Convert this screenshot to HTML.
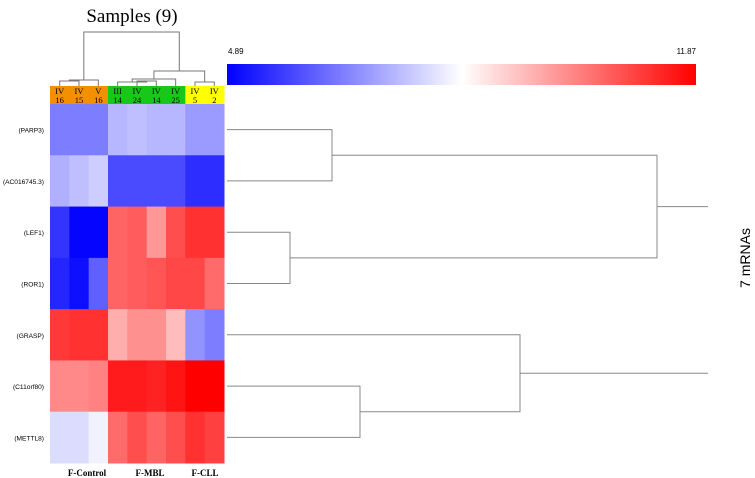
<!DOCTYPE html>
<html><head><meta charset="utf-8"><style>
body{margin:0;background:#fff;width:755px;height:478px;overflow:hidden}
svg{display:block}
</style></head><body>
<svg id="chart" width="755" height="478" xmlns="http://www.w3.org/2000/svg">
<defs><linearGradient id="cb" x1="0" x2="1" y1="0" y2="0"><stop offset="0" stop-color="#0000ff"/><stop offset="0.5" stop-color="#ffffff"/><stop offset="1" stop-color="#ff0000"/></linearGradient></defs>
<text x="132" y="22" font-family="Liberation Serif, serif" font-size="19" text-anchor="middle">Samples (9)</text>
<g id="cells"></g>
<g id="hdr"></g>
<g id="rdend" stroke="#888" stroke-width="1" fill="none"></g>
<g id="cdend" stroke="#777" stroke-width="1" fill="none"></g>
<rect x="227" y="64" width="469" height="21" fill="url(#cb)"/>
<text x="228" y="54" font-family="Liberation Sans, sans-serif" font-size="8">4.89</text>
<text x="696" y="54" font-family="Liberation Sans, sans-serif" font-size="8" text-anchor="end">11.87</text>
<text transform="translate(750,258) rotate(-90)" font-family="Liberation Sans, sans-serif" font-size="14" text-anchor="middle">7 mRNAs</text>
<g id="groups" font-family="Liberation Serif, serif" font-size="9" font-weight="bold" text-anchor="middle"></g>
</svg>
<script>
const genes=["(PARP3)","(AC016745.3)","(LEF1)","(ROR1)","(GRASP)","(C11orf80)","(METTL8)"];
const colTop=["IV","IV","V","III","IV","IV","IV","IV","IV"];
const colBot=["16","15","16","14","24","14","25","5","2"];
const colGroup=["control","control","control","mbl","mbl","mbl","mbl","cll","cll"];
const groupNames=["F-Control","F-MBL","F-CLL"];
const vmin=4.89, vmax=11.87;
const values=[
[6.6,6.6,6.6,7.4,7.5,7.4,7.4,7.0,7.0],
[7.3,7.5,7.7,5.9,5.9,5.9,5.9,5.5,5.5],
[5.6,4.95,4.95,10.5,10.6,9.8,10.8,11.2,11.2],
[5.4,5.1,6.2,10.5,10.6,10.7,10.9,10.9,10.4],
[11.1,11.2,11.2,9.5,9.9,9.9,9.3,6.9,6.6],
[10.0,10.0,10.1,11.5,11.5,11.4,11.6,11.87,11.87],
[7.9,7.9,8.2,10.4,10.8,10.5,10.8,11.2,11.0]];
const NS="http://www.w3.org/2000/svg";
const X0=50,X1=224,Y0=104,Y1=463;
const cw=(X1-X0)/9, rh=(Y1-Y0)/7;
const xs=i=>X0+i*cw, ys=j=>Y0+j*rh;
function col(v){let t=(v-vmin)/(vmax-vmin);t=Math.max(0,Math.min(1,t));
 let r,g,b;if(t<0.5){r=g=Math.round(255*t/0.5);b=255;}else{r=255;g=b=Math.round(255*(1-(t-0.5)/0.5));}
 return `rgb(${r},${g},${b})`;}
function mk(tag,attrs,parent){const e=document.createElementNS(NS,tag);for(const k in attrs)e.setAttribute(k,attrs[k]);parent.appendChild(e);return e;}
const cells=document.getElementById('cells');
values.forEach((row,j)=>{row.forEach((v,i)=>{
 const r=mk('rect',{x:xs(i),y:ys(j),width:cw+0.5,height:rh+0.5,fill:col(v)},cells);
 
 
});
 const t=mk('text',{x:44,y:ys(j)+rh/2+3,'font-family':'Liberation Sans, sans-serif','font-size':'6.6','text-anchor':'end'},cells);
 t.textContent=genes[j];
 
 
});
const gc={control:"#f39000",mbl:"#18c818",cll:"#ffff00"};
const hdr=document.getElementById('hdr');
colTop.forEach((s,i)=>{
 const r=mk('rect',{x:xs(i),y:86,width:cw+0.5,height:18,fill:gc[colGroup[i]]},hdr);
 
 
 const t1=mk('text',{x:xs(i)+cw/2,y:94,'font-family':'Liberation Serif, serif','font-size':'8.5','text-anchor':'middle'},hdr);t1.textContent=s;
 
 
 const t2=mk('text',{x:xs(i)+cw/2,y:103,'font-family':'Liberation Serif, serif','font-size':'8.5','text-anchor':'middle'},hdr);t2.textContent=colBot[i];
 
 
});
const groups=document.getElementById('groups');
[[87,"F-Control"],[150,"F-MBL"],[205,"F-CLL"]].forEach(([x,n],k)=>{
 const t=mk('text',{x:x,y:476},groups);t.textContent=groupNames[k];
 
 
});
const yc=j=>ys(j)+rh/2, xc=i=>xs(i)+cw/2;
function path(d,g){const p=mk('path',{d:d},g);}
const rd=document.getElementById('rdend');
path(`M227,${yc(0)}H332V${yc(1)}H227`,rd);
path(`M227,${yc(2)}H290V${yc(3)}H227`,rd);
const a=(yc(0)+yc(1))/2,b=(yc(2)+yc(3))/2;
path(`M332,${a}H657V${b}H290`,rd);
path(`M657,${(a+b)/2}H708`,rd);
path(`M227,${yc(5)}H360V${yc(6)}H227`,rd);
const c=(yc(5)+yc(6))/2;
path(`M227,${yc(4)}H520V${c}H360`,rd);
path(`M520,${(yc(4)+c)/2}H708`,rd);
const cd=document.getElementById('cdend');
path(`M${xc(0)},86V81H${xc(1)}V86`,cd);
const o1=(xc(0)+xc(1))/2;
path(`M${o1},81V80H${xc(2)}V86`,cd);
const o2=(o1+xc(2))/2;
path(`M${xc(4)},86V81H${xc(5)}V86`,cd);
const g1=(xc(4)+xc(5))/2;
path(`M${xc(3)},86V82H${g1}V81`,cd);
const g2=(xc(3)+g1)/2;
path(`M${g2},82V79H${xc(6)}V86`,cd);
const g3=(g2+xc(6))/2;
path(`M${xc(7)},86V82H${xc(8)}V86`,cd);
const y1=(xc(7)+xc(8))/2;
path(`M${g3},79V71H${y1}V82`,cd);
const gy=(g3+y1)/2;
path(`M${o2},80V32H${gy}V71`,cd);
</script>
</body></html>
